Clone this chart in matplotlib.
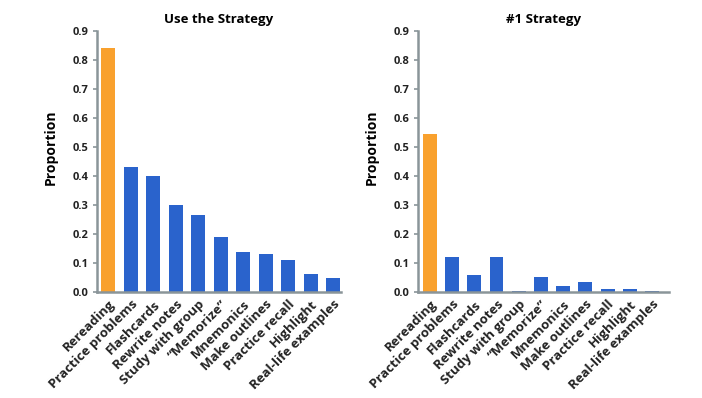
import matplotlib
matplotlib.use("Agg")
import matplotlib.pyplot as plt

categories = ["Rereading", "Practice problems", "Flashcards", "Rewrite notes",
              "Study with group", "\u201cMemorize\u201d", "Mnemonics", "Make outlines",
              "Practice recall", "Highlight", "Real-life examples"]
use_strategy = [0.84, 0.43, 0.40, 0.30, 0.265, 0.19, 0.14, 0.13, 0.11, 0.062, 0.047]
top_strategy = [0.545, 0.12, 0.058, 0.12, 0.003, 0.053, 0.022, 0.036, 0.01, 0.012, 0.003]
yticks = [0.0, 0.1, 0.2, 0.3, 0.4, 0.5, 0.6, 0.7, 0.8, 0.9]
titles = ["Use the Strategy", "#1 Strategy"]

orange = "#F9A12E"
blue = "#2A63CC"
spine_col = "#8A9599"

plt.rcParams['font.family'] = ['Open Sans', 'DejaVu Sans']

fig = plt.figure(figsize=(7.02, 3.98), dpi=100)
ax1 = fig.add_axes([0.138, 0.266, 0.348, 0.656])
ax2 = fig.add_axes([0.595, 0.266, 0.358, 0.656])

for ax, vals, title, xlim in [(ax1, use_strategy, titles[0], (-0.51, 10.36)),
                              (ax2, top_strategy, titles[1], (-0.55, 10.77))]:
    x = list(range(len(categories)))
    colors = [orange] + [blue] * (len(categories) - 1)
    ax.bar(x, vals, width=0.63, color=colors)
    ax.set_xlim(*xlim)
    ax.set_ylim(0, 0.9)
    ax.set_yticks(yticks)
    ax.set_yticklabels([f"{t:.1f}" for t in yticks], fontsize=8, fontweight='bold',
                       color='#222222')
    ax.set_xticks(x)
    ax.set_xticklabels(categories, rotation=45, ha='right', rotation_mode='anchor',
                       fontsize=9.5, fontweight='bold', color='#222222')
    ax.tick_params(axis='x', length=0, pad=4)
    ax.tick_params(axis='y', length=3, width=1.2, color=spine_col, pad=3)
    for s in ['top', 'right']:
        ax.spines[s].set_visible(False)
    for s in ['left', 'bottom']:
        ax.spines[s].set_color(spine_col)
        ax.spines[s].set_linewidth(1.8)
    ax.set_ylabel("Proportion", fontsize=10, fontweight='bold', labelpad=9)
    ax.yaxis.set_label_coords(-0.16 if ax is ax1 else -0.155, 0.555)
    ax.set_title(title, fontsize=9.5, fontweight='bold', pad=6)

fig.savefig("out.png", dpi=100)
